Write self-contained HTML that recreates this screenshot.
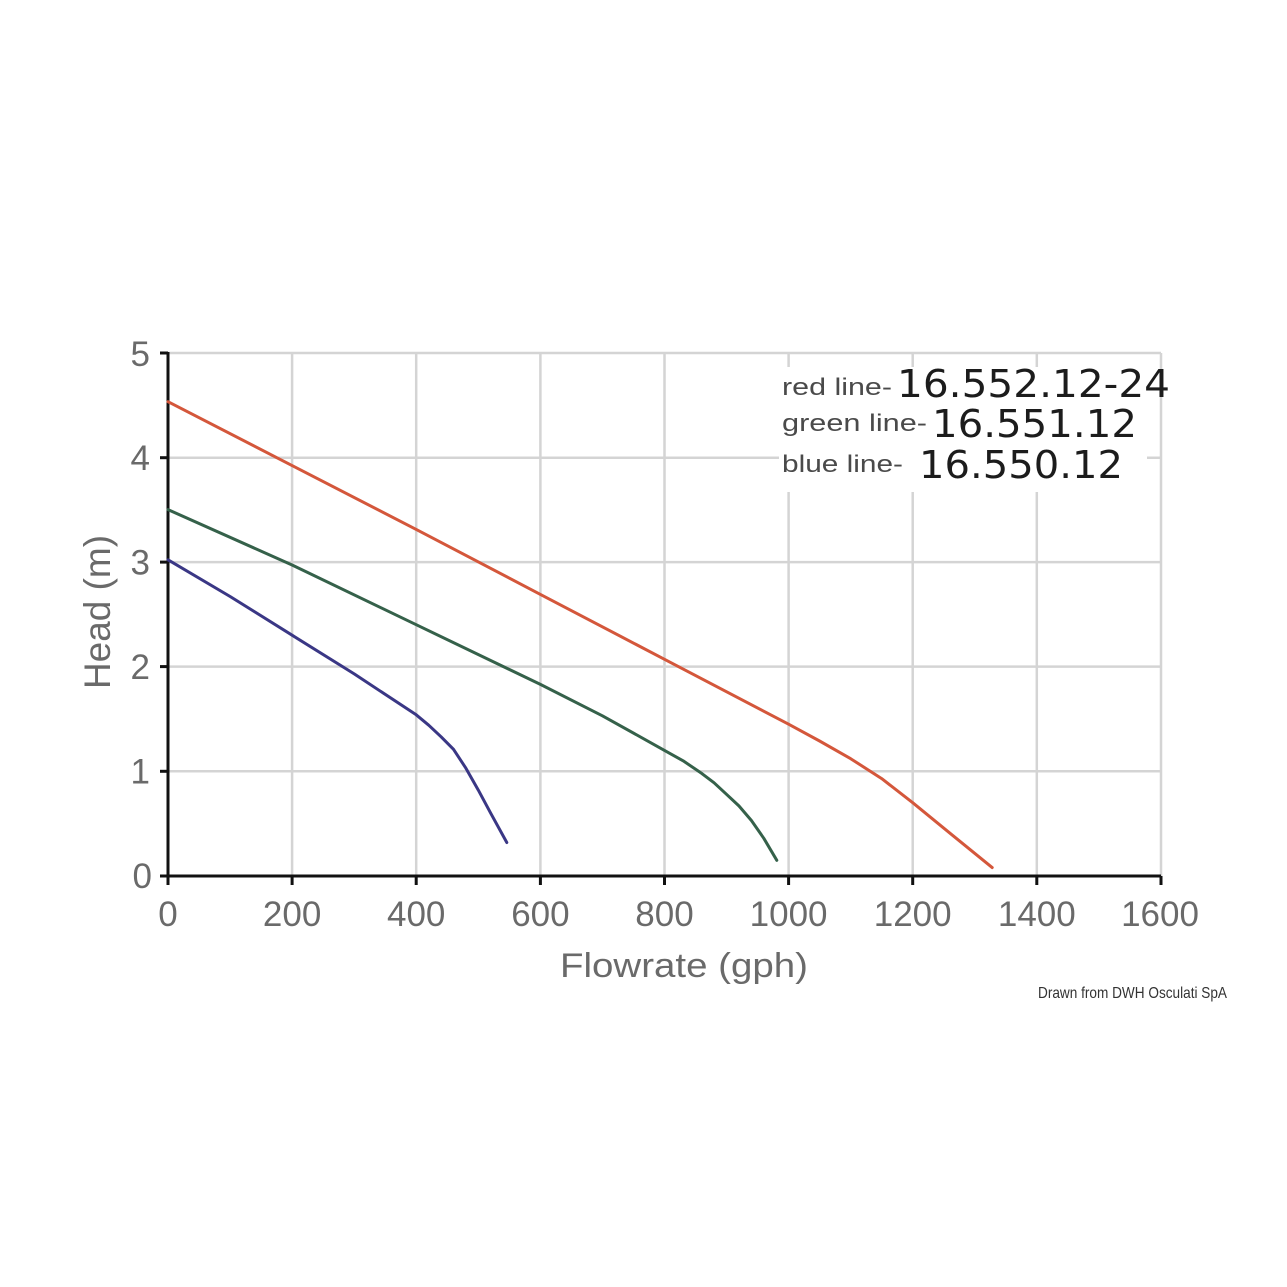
<!DOCTYPE html>
<html>
<head>
<meta charset="utf-8">
<style>
html,body{margin:0;padding:0;background:#fff;}
svg{display:block;}
</style>
</head>
<body>
<svg width="1287" height="1287" viewBox="0 0 1287 1287" xmlns="http://www.w3.org/2000/svg">
<rect x="0" y="0" width="1287" height="1287" fill="#fff"/>
<!-- grid -->
<g stroke="#d4d4d4" stroke-width="2.5" fill="none">
  <line x1="292.1" y1="353" x2="292.1" y2="876"/>
  <line x1="416.2" y1="353" x2="416.2" y2="876"/>
  <line x1="540.4" y1="353" x2="540.4" y2="876"/>
  <line x1="664.5" y1="353" x2="664.5" y2="876"/>
  <line x1="788.6" y1="353" x2="788.6" y2="876"/>
  <line x1="912.7" y1="353" x2="912.7" y2="876"/>
  <line x1="1036.8" y1="353" x2="1036.8" y2="876"/>
  <line x1="1161" y1="353" x2="1161" y2="876"/>
  <line x1="168" y1="353" x2="1161" y2="353"/>
  <line x1="168" y1="457.7" x2="1161" y2="457.7"/>
  <line x1="168" y1="562.1" x2="1161" y2="562.1"/>
  <line x1="168" y1="666.6" x2="1161" y2="666.6"/>
  <line x1="168" y1="771.3" x2="1161" y2="771.3"/>
</g>
<!-- legend box -->
<rect x="779" y="367" width="368" height="125" fill="#fff"/>
<!-- axes -->
<g stroke="#111" stroke-width="3" fill="none">
  <line x1="168" y1="352" x2="168" y2="877.5"/>
  <line x1="166.5" y1="876" x2="1161" y2="876"/>
  <line x1="160" y1="353" x2="168" y2="353"/>
  <line x1="160" y1="457.7" x2="168" y2="457.7"/>
  <line x1="160" y1="562.1" x2="168" y2="562.1"/>
  <line x1="160" y1="666.6" x2="168" y2="666.6"/>
  <line x1="160" y1="771.3" x2="168" y2="771.3"/>
  <line x1="160" y1="876" x2="168" y2="876"/>
  <line x1="168" y1="876" x2="168" y2="885"/>
  <line x1="292.1" y1="876" x2="292.1" y2="885"/>
  <line x1="416.2" y1="876" x2="416.2" y2="885"/>
  <line x1="540.4" y1="876" x2="540.4" y2="885"/>
  <line x1="664.5" y1="876" x2="664.5" y2="885"/>
  <line x1="788.6" y1="876" x2="788.6" y2="885"/>
  <line x1="912.7" y1="876" x2="912.7" y2="885"/>
  <line x1="1036.8" y1="876" x2="1036.8" y2="885"/>
  <line x1="1161" y1="876" x2="1161" y2="885"/>
</g>
<!-- curves -->
<g fill="none" stroke-width="3" stroke-linejoin="round" stroke-linecap="round">
  <polyline stroke="#d4573b" points="168,401.7 292.1,465.6 416.2,529.4 540.4,594.4 664.5,659.3 788.6,724.2 819.6,741 850.7,758.7 881.7,778.6 912.7,802.7 952.4,835.2 992.2,867.6"/>
  <polyline stroke="#35614a" points="168,509.6 292.1,565 416.2,624.7 540.4,684.4 602.4,715.8 664.5,750.4 683.1,760.8 701.7,773.4 714.1,782.8 726.5,794.3 738.9,805.9 751.4,820.5 763.8,838.3 776.8,860.3"/>
  <polyline stroke="#3a3785" points="168,559.8 230.1,596.5 292.1,635.2 354.2,673.9 416.2,714.8 428.7,725.2 441.1,736.8 453.5,749.3 465.9,768.2 478.3,790.1 490.7,813.2 506.8,842.5"/>
</g>
<!-- tick labels -->
<g font-family="'Liberation Sans', Arial, sans-serif" font-size="35" fill="#6a6a6a">
  <text x="150" y="366" text-anchor="end">5</text>
  <text x="150" y="470" text-anchor="end">4</text>
  <text x="150" y="574.5" text-anchor="end">3</text>
  <text x="150" y="679" text-anchor="end">2</text>
  <text x="150" y="783.5" text-anchor="end">1</text>
  <text x="152" y="888" text-anchor="end">0</text>
  <g text-anchor="middle">
    <text x="168" y="926">0</text>
    <text x="292.1" y="926">200</text>
    <text x="416.2" y="926">400</text>
    <text x="540.4" y="926">600</text>
    <text x="664.5" y="926">800</text>
    <text x="788.6" y="926">1000</text>
    <text x="912.7" y="926">1200</text>
    <text x="1036.8" y="926">1400</text>
    <text x="1160" y="926">1600</text>
  </g>
  <text x="560" y="977" font-size="34" textLength="248" lengthAdjust="spacingAndGlyphs">Flowrate (gph)</text>
  <text transform="translate(110,612) rotate(-90)" text-anchor="middle" font-size="37" textLength="154" lengthAdjust="spacingAndGlyphs">Head (m)</text>
</g>
<!-- legend -->
<g font-family="'Liberation Sans', Arial, sans-serif" font-size="24" fill="#4a4a4a">
  <text x="782" y="395" textLength="110" lengthAdjust="spacingAndGlyphs">red line-</text>
  <text x="782" y="431" textLength="145" lengthAdjust="spacingAndGlyphs">green line-</text>
  <text x="782" y="472" textLength="121" lengthAdjust="spacingAndGlyphs">blue line-</text>
</g>
<g font-family="'DejaVu Sans', Verdana, sans-serif" font-size="38" fill="#1c1c1c">
  <text x="897" y="397" textLength="273" lengthAdjust="spacingAndGlyphs">16.552.12-24</text>
  <text x="932" y="437" textLength="205" lengthAdjust="spacingAndGlyphs">16.551.12</text>
  <text x="919" y="478" textLength="204" lengthAdjust="spacingAndGlyphs">16.550.12</text>
</g>
<text x="1038" y="998" font-family="'Liberation Sans', Arial, sans-serif" font-size="16" fill="#333" textLength="189" lengthAdjust="spacingAndGlyphs">Drawn from DWH Osculati SpA</text>
</svg>
</body>
</html>
